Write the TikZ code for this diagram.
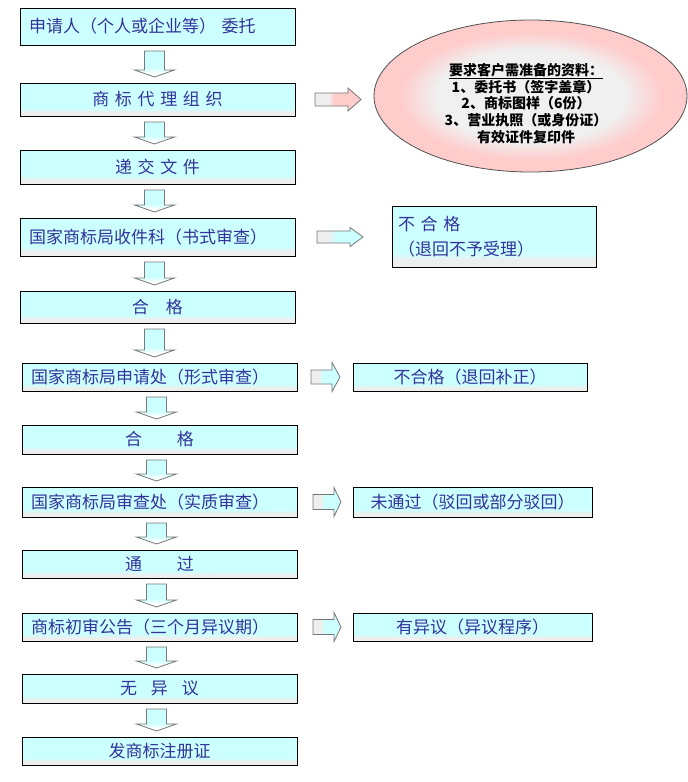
\documentclass[tikz,border=0pt]{standalone}
\usepackage{fontspec}
\newfontfamily\cjk{Noto Sans CJK SC}
\usetikzlibrary{calc,positioning,shapes.geometric}

\definecolor{boxcyan}{HTML}{CCFFFF}
\definecolor{boxgray}{HTML}{EEEEEE}
\definecolor{ellpink}{HTML}{FFCCCC}
\definecolor{ellpale}{HTML}{F0F0F0}
\definecolor{ellline}{HTML}{505050}
\definecolor{txtblue}{HTML}{333399}
\definecolor{arrline}{HTML}{777777}

\pgfdeclareverticalshading{boxshade}{100bp}{color(0bp)=(boxgray); color(31bp)=(boxgray); color(37bp)=(boxcyan); color(100bp)=(boxcyan)}
\pgfdeclareverticalshading{downshade}{100bp}{color(0bp)=(white); color(31bp)=(white); color(44bp)=(boxcyan); color(100bp)=(boxcyan)}
\pgfdeclarehorizontalshading{arrshade}{100bp}{color(0bp)=(boxgray); color(38bp)=(boxgray); color(46bp)=(boxcyan); color(100bp)=(boxcyan)}
\pgfdeclarehorizontalshading{pinkshade}{100bp}{color(0bp)=(boxgray); color(40bp)=(boxgray); color(46bp)=(ellpink); color(100bp)=(ellpink)}
\pgfdeclareradialshading{ellshade}{\pgfpoint{0bp}{0bp}}{color(0bp)=(ellpale); color(15bp)=(ellpale); color(21bp)=(ellpink); color(50bp)=(ellpink)}

\tikzset{
  flowbox/.style={draw=black, line width=0.8pt, outer sep=0pt, text width=257pt, inner xsep=9pt, inner ysep=0pt,
    font=\cjk\fontsize{17}{20}\selectfont, text=txtblue},
  foot/.style={shade, shading=boxshade},
  blkarrow/.style={draw=arrline, line width=0.8pt, shade, shading=downshade},
  rblk/.style={draw=arrline, line width=0.8pt, shade, shading=arrshade},
  pinkblk/.style={shading=pinkshade},
  reqnote/.style={ellipse, draw=ellline, line width=0.8pt, outer sep=0pt, shade, shading=ellshade, inner sep=0pt,
    minimum width=313pt, minimum height=152pt},
  reqtext/.style={align=center, inner sep=0pt, font=\cjk\bfseries\fontsize{14}{16.7}\selectfont}
}

% block arrow pointing down, between two boxes
\newcommand\downblk[2]{%
  \draw[blkarrow] let \p1=(#1.south), \p2=(#2.north) in
    (\x1-13pt,\y1-6pt) -- (\x1+7pt,\y1-6pt) -- (\x1+7pt,\y2+13pt)
    -- (\x1+17pt,\y2+13pt) -- (\x1-3pt,\y2+6pt) -- (\x1-23pt,\y2+13pt)
    -- (\x1-13pt,\y2+13pt) -- cycle;}
% block arrow pointing right: from, to, gaps, head/shaft half heights, head length
\newcommand\rightblk[8][]{%
  \draw[rblk,#1] let \p1=(#2.east), \p2=(#3.west) in
    (\x1+#4,\y1+#7) -- (\x2-#5-#8,\y1+#7) -- (\x2-#5-#8,\y1+#6) -- (\x2-#5,\y1)
    -- (\x2-#5-#8,\y1-#6) -- (\x2-#5-#8,\y1-#7) -- (\x1+#4,\y1-#7) -- cycle;}

\begin{document}
\begin{tikzpicture}[x=1pt, y=-1pt]
  \useasboundingbox (0,0) rectangle (688,782);

  \node[flowbox, fill=boxcyan, align=left, minimum height=37pt] (apply) at (157.5,26.5) {申请人（个人或企业等） 委托};
  \node[flowbox, foot, align=center, minimum height=33pt, below=38pt of apply] (agency) {商 标 代 理 组 织};
  \node[flowbox, foot, align=center, minimum height=34pt, below=34pt of agency] (submit) {递 交 文 件};
  \node[flowbox, foot, align=left, minimum height=38pt, below=34pt of submit] (receive) {国家商标局收件科（书式审查）};
  \node[flowbox, foot, align=center, minimum height=32pt, below=35pt of receive] (pass1) {合\hspace{17pt}格};
  \node[flowbox, foot, align=left, minimum height=28pt, below=40pt of pass1, xshift=2pt] (formal) {国家商标局申请处（形式审查）};
  \node[flowbox, foot, align=center, minimum height=29pt, below=34pt of formal] (pass2) {合\hspace{35pt}格};
  \node[flowbox, foot, align=left, minimum height=30pt, below=33pt of pass2] (substance) {国家商标局审查处（实质审查）};
  \node[flowbox, foot, align=center, minimum height=28pt, below=33pt of substance] (pass3) {通\hspace{35pt}过};
  \node[flowbox, foot, align=left, minimum height=28pt, below=35pt of pass3] (gazette) {商标初审公告（三个月异议期）};
  \node[flowbox, foot, align=center, minimum height=29pt, below=33pt of gazette] (noobj) {无\hspace{14pt}异\hspace{14pt}议};
  \node[flowbox, foot, align=center, minimum height=28pt, below=34pt of noobj] (cert) {发商标注册证};

  \node[reqnote, right=79pt of agency, yshift=3.5pt] (docs) {};
  \node[reqtext] (docstext) at ($(docs.center)+(-4.5,7.5)$) {\underline{要求客户需准备的资料：}\\1、委托书（签字盖章）\\2、商标图样（6份）\\3、营业执照（或身份证）\\有效证件复印件};
  \node[flowbox, foot, align=left, text width=192pt, inner xsep=6pt, minimum height=61pt,
    font=\cjk\fontsize{17}{25}\selectfont, right=97pt of receive] (reject1) {不 合 格\\（退回不予受理）};
  \node[flowbox, foot, align=center, text width=222pt, inner xsep=6pt, minimum height=28pt, right=56pt of formal] (reject2) {不合格（退回补正）};
  \node[flowbox, foot, align=center, text width=227pt, inner xsep=6pt, minimum height=30pt, right=56pt of substance] (reject3) {未通过（驳回或部分驳回）};
  \node[flowbox, foot, align=center, text width=227pt, inner xsep=6pt, minimum height=28pt, right=56pt of gazette] (objection) {有异议（异议程序）};

  \foreach \a/\b in {apply/agency, agency/submit, submit/receive, receive/pass1, pass1/formal,
    formal/pass2, pass2/substance, substance/pass3, pass3/gazette, gazette/noobj, noobj/cert}
    \downblk{\a}{\b};

  \rightblk[pinkblk]{agency}{docs}{20pt}{13pt}{11.5pt}{6.5pt}{13pt}
  \rightblk{receive}{reject1}{22pt}{29pt}{9.5pt}{6pt}{13pt}
  \rightblk{formal}{reject2}{14pt}{13pt}{14.5pt}{7pt}{8pt}
  \rightblk{substance}{reject3}{16pt}{12pt}{14.5pt}{7.5pt}{7pt}
  \rightblk{gazette}{objection}{16pt}{12pt}{14.5pt}{7.5pt}{7pt}
\end{tikzpicture}
\end{document}
